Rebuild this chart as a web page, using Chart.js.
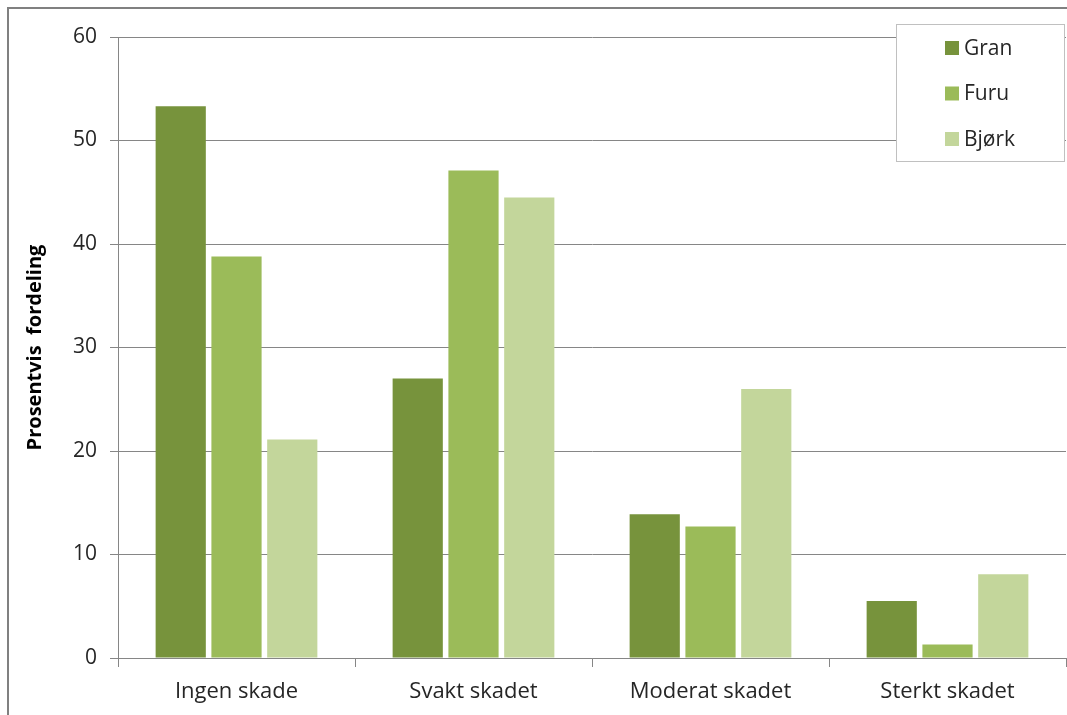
<!DOCTYPE html>
<html>
<head>
<meta charset="utf-8">
<script src="https://cdn.jsdelivr.net/npm/chart.js@4/dist/chart.umd.min.js"></script>
<style>
  html, body { margin: 0; padding: 0; background: #fff; }
  #wrap { position: relative; width: 1067px; height: 715px; }
</style>
</head>
<body>
<div id="wrap"><canvas id="myChart" width="1067" height="715"></canvas></div>
<script>
const categories = ["Ingen skade", "Svakt skadet", "Moderat skadet", "Sterkt skadet"];
const granValues = [53.3, 27.0, 13.9, 5.5];
const furuValues = [38.8, 47.1, 12.7, 1.3];
const bjorkValues = [21.1, 44.5, 26.0, 8.1];
const seriesNames = ["Gran", "Furu", "Bjørk"];
const yTicks = [0, 10, 20, 30, 40, 50, 60];

const colors = ["#77933c", "#9bbb59", "#c3d69b"];
const gridColor = "#868686";
const textColor = "#262626";
const fontFamily = "'Open Sans', sans-serif";

// outer frame of the chart (cropped on right and bottom)
const framePlugin = {
  id: "frame",
  afterDraw(chart) {
    const ctx = chart.ctx;
    ctx.save();
    ctx.strokeStyle = "#808080";
    ctx.lineWidth = 2;
    ctx.beginPath();
    ctx.moveTo(8, 715);
    ctx.lineTo(8, 8);
    ctx.lineTo(1067, 8);
    ctx.stroke();
    ctx.restore();
  },
};

// boxed legend inside the plot area, top right
const boxLegendPlugin = {
  id: "boxLegend",
  afterDraw(chart) {
    const ctx = chart.ctx;
    const box = { x: 896, y: 24, w: 168, h: 137 };
    ctx.save();
    ctx.fillStyle = "#ffffff";
    ctx.fillRect(box.x, box.y, box.w, box.h);
    ctx.strokeStyle = "#c0c0c0";
    ctx.lineWidth = 1;
    ctx.strokeRect(box.x + 0.5, box.y + 0.5, box.w, box.h);
    ctx.font = "21px " + fontFamily;
    ctx.textBaseline = "middle";
    chart.data.datasets.forEach((ds, i) => {
      const cy = 48 + i * 45.5;
      ctx.fillStyle = ds.backgroundColor;
      ctx.fillRect(945, cy - 7, 14, 14);
      ctx.fillStyle = textColor;
      ctx.fillText(ds.label, 964, cy + 1);
    });
    ctx.restore();
  },
};

const data = {
  labels: categories,
  datasets: [
    { label: seriesNames[0], data: granValues, backgroundColor: colors[0] },
    { label: seriesNames[1], data: furuValues, backgroundColor: colors[1] },
    { label: seriesNames[2], data: bjorkValues, backgroundColor: colors[2] },
  ],
};

const config = {
  type: "bar",
  data,
  options: {
    responsive: false,
    animation: false,
    devicePixelRatio: 1,
    layout: { padding: { top: 37, right: 1, left: 0, bottom: 0 } },
    datasets: {
      bar: { categoryPercentage: 0.706, barPercentage: 0.9 },
    },
    plugins: {
      legend: { display: false },
      tooltip: { enabled: false },
    },
    scales: {
      x: {
        grid: {
          offset: true,
          drawOnChartArea: false,
          drawTicks: true,
          tickLength: 9,
          color: gridColor,
        },
        border: { display: true, color: gridColor },
        ticks: {
          color: textColor,
          font: { family: fontFamily, size: 22 },
          padding: 12,
          maxRotation: 0,
        },
        afterFit(scale) {
          scale.height = 57;
        },
      },
      y: {
        min: 0,
        max: 60,
        afterBuildTicks(scale) {
          scale.ticks = yTicks.map((v) => ({ value: v }));
        },
        grid: {
          color: gridColor,
          tickLength: 8,
          drawTicks: true,
        },
        border: { display: true, color: gridColor },
        ticks: {
          color: textColor,
          font: { family: fontFamily, size: 21 },
          padding: 13,
        },
        title: {
          display: true,
          text: "Prosentvis  fordeling",
          color: "#000000",
          font: { family: fontFamily, size: 20, weight: "bold" },
          padding: { top: 23, bottom: 0 },
        },
        afterFit(scale) {
          scale.width = 118;
        },
      },
    },
  },
  plugins: [framePlugin, boxLegendPlugin],
};

window.chart = new Chart(document.getElementById("myChart"), config);
</script>
</body>
</html>
